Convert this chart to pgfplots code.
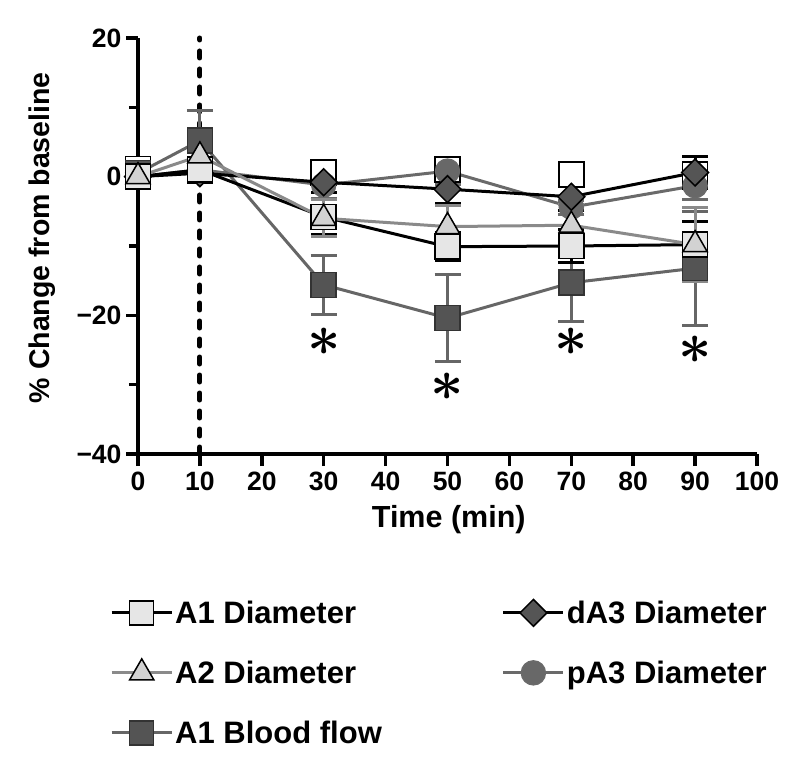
\RequirePackage{fix-cm}
\documentclass[border=0pt]{standalone}
\usepackage{fontspec}
\setmainfont{Liberation Sans}
\usepackage{pgfplots}
\pgfplotsset{compat=1.18}

\definecolor{aonefill}{HTML}{E6E6E6}
\definecolor{atwofill}{HTML}{D2D2D2}
\definecolor{atwoline}{HTML}{8A8A8A}
\definecolor{dthreefill}{HTML}{555555}
\definecolor{pthreefill}{HTML}{686868}
\definecolor{pthreeline}{HTML}{6A6A6A}
\definecolor{bffill}{HTML}{545454}
\definecolor{bfedge}{HTML}{333333}
\definecolor{bfline}{HTML}{666666}

\pgfplotsset{
  ebar/.style={error bars/y dir=both, error bars/y explicit,
    error bars/error bar style={line width=3pt, color=#1},
    error bars/error mark options={rotate=90, line width=3pt, mark size=13pt, color=#1}},
}

\begin{document}
\begin{tikzpicture}
\begin{axis}[
  scale only axis,
  width=619pt, height=416pt,
  xmin=0, xmax=100, ymin=-40, ymax=20,
  axis x line*=bottom, axis y line*=left,
  axis line style={line width=4.5pt, -},
  tick align=outside,
  major tick length=12pt, minor tick length=9pt,
  tick style={line width=3.5pt, black},
  xtick={0,10,...,100},
  ytick={-40,-20,0,20},
  yticklabels={−40,−20,0,20},
  minor ytick={-30,-10,10},
  /pgf/number format/assume math mode=true,
  ticklabel style={font=\fontsize{26.5}{26.5}\selectfont\bfseries},
  xticklabel style={yshift=-2pt},
  yticklabel style={xshift=-1pt},
  xlabel={Time (min)},
  ylabel={\% Change from baseline},
  xlabel style={font=\fontsize{30.5}{30.5}\selectfont\bfseries, at={(axis description cs:0.502,-0.157)}, anchor=center},
  ylabel style={font=\fontsize{28.5}{28.5}\selectfont\bfseries, at={(axis description cs:-0.155,0.52)}, anchor=center},
  clip=false,
  legend columns=2,
  legend style={draw=none, fill=none, at={(axis description cs:-0.05,-0.343)}, anchor=north west,
    font=\fontsize{31}{31}\selectfont\bfseries, row sep=32pt,
    /tikz/every even column/.append style={column sep=118pt}},
  legend cell align=left,
  legend image code/.code={\draw[mark repeat=2, mark phase=2] plot coordinates {(0pt,0pt) (30pt,0pt) (60pt,0pt)};},
]

% legend entries
\addlegendimage{black, line width=3pt, mark=square*, mark size=12pt, mark options={fill=aonefill, draw=black, line width=1.5pt}}
\addlegendentry{A1 Diameter}
\addlegendimage{black, line width=3pt, mark=square*, mark size=9.5pt, mark options={rotate=45, fill=dthreefill, draw=black, line width=1.5pt}}
\addlegendentry{dA3 Diameter}
\addlegendimage{atwoline, line width=3pt, mark=triangle*, mark size=14pt, mark options={fill=atwofill, draw=black, line width=1.5pt}}
\addlegendentry{A2 Diameter}
\addlegendimage{pthreeline, line width=3pt, mark=*, mark size=12pt, mark options={fill=pthreefill, draw=pthreeline, line width=1.5pt}}
\addlegendentry{pA3 Diameter}
\addlegendimage{bfline, line width=3pt, mark=square*, mark size=12pt, mark options={fill=bffill, draw=bfedge, line width=1.5pt}}
\addlegendentry{A1 Blood flow}

% injection marker
\addplot[forget plot, black, line width=5pt, line cap=round, dash pattern=on 7pt off 11pt] coordinates {(10,-40) (10,20)};

% open squares
\addplot[forget plot, only marks, mark=square*, mark size=12.5pt, mark options={fill=white, draw=black, line width=1.5pt}]
  coordinates {(0,1.1) (10,0.9) (30,0.6) (50,1.0) (70,0.3) (90,0.3)};

% A1 blood flow
\addplot[forget plot, bfline, line width=3pt, mark=square*, mark size=12.5pt,
  mark options={fill=bffill, draw=bfedge, line width=1.5pt}, ebar=bfline]
  coordinates {(0,0.5) +- (0,0.5) (10,5.2) +- (0,4.3) (30,-15.6) +- (0,4.3)
               (50,-20.4) +- (0,6.3) (70,-15.3) +- (0,5.6) (90,-13.2) +- (0,8.2)};

% pA3 diameter
\addplot[forget plot, pthreeline, line width=3pt, mark=*, mark size=12pt,
  mark options={fill=pthreefill, draw=pthreeline, line width=1.5pt}, ebar=pthreeline]
  coordinates {(0,0) +- (0,0.5) (10,1.0) +- (0,1.0) (30,-1.2) +- (0,2.0)
               (50,0.8) +- (0,2.0) (70,-4.4) +- (0,1.0) (90,-1.3) +- (0,2.0)};

% dA3 diameter
\addplot[forget plot, black, line width=3pt, mark=square*, mark size=9.5pt,
  mark options={rotate=45, fill=dthreefill, draw=black, line width=1.5pt}, ebar=black]
  coordinates {(0,0) +- (0,0.5) (10,0.5) +- (0,1.0) (30,-0.8) +- (0,1.5)
               (50,-1.8) +- (0,2.0) (70,-2.9) +- (0,2.0) (90,0.6) +- (0,2.3)};

% A1 diameter
\addplot[forget plot, black, line width=3pt, mark=square*, mark size=12.5pt,
  mark options={fill=aonefill, draw=black, line width=1.5pt}, ebar=black]
  coordinates {(0,0) +- (0,0.5) (10,1.0) +- (0,1.0) (30,-5.8) +- (0,2.5)
               (50,-10.1) +- (0,2.0) (70,-10.0) +- (0,2.4) (90,-9.8) +- (0,3.3)};

% A2 diameter
\addplot[forget plot, atwoline, line width=3pt, mark=triangle*, mark size=14pt,
  mark options={fill=atwofill, draw=black, line width=1.5pt}, ebar=atwoline]
  coordinates {(0,0) +- (0,0.5) (10,3.0) +- (0,1.0) (30,-6.0) +- (0,2.7)
               (50,-7.2) +- (0,3.0) (70,-7.0) +- (0,3.0) (90,-9.8) +- (0,5.3)};

% significance
\addplot[forget plot, only marks, mark=none, nodes near coords={$\ast$},
  nodes near coords align=center,
  every node near coord/.append style={font=\fontsize{58}{58}\selectfont\boldmath, anchor=center, inner sep=0pt}]
  coordinates {(30,-23.8) (50,-30.3) (70,-23.8) (90,-25.0)};

\end{axis}
\pgfresetboundingbox
\path[use as bounding box] ([xshift=-138pt,yshift=-308pt]current axis.south west) rectangle ++(800pt,762pt);
\end{tikzpicture}
\end{document}
